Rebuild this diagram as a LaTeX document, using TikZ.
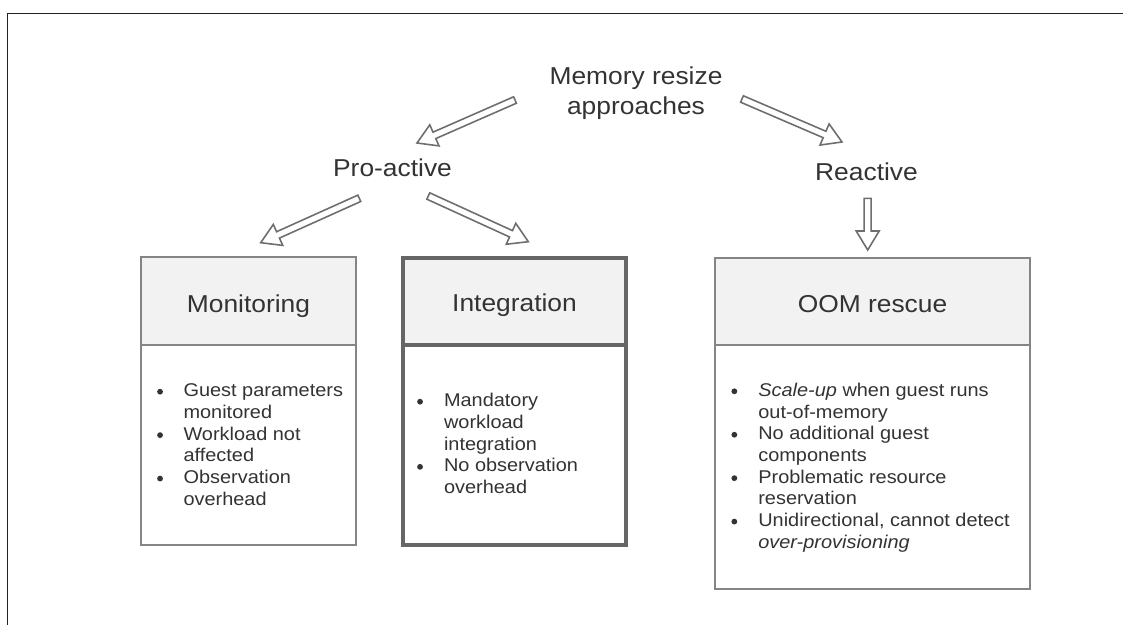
\documentclass[tikz,border=0pt]{standalone}
\usepackage{fontspec}
\setmainfont[FakeStretch=1.08]{Liberation Sans}
\usetikzlibrary{calc}
\definecolor{txt}{HTML}{333333}
\definecolor{bordA}{HTML}{858585}
\definecolor{bordB}{HTML}{666666}
\definecolor{hdr}{HTML}{F2F2F2}
\definecolor{arrc}{HTML}{6E6E6E}
\definecolor{frame}{HTML}{222222}
\newcommand\titlefont{\fontsize{13.9}{17.4}\selectfont}
\newcommand\listfont{\fontsize{10.5}{12.36}\selectfont}
\newcommand\bul{\tikz[baseline=0pt,overlay]{\fill[txt] (0.08cm,0.1cm) circle (0.058cm);}}
\newcommand\hollowarrow[2]{%
  \coordinate (ha) at ($(#2)!0.38cm!(#1)$);
  \draw[blockarrow] ($(#1)!0.07cm!90:(#2)$) -- ($(ha)!0.07cm!-90:(#1)$) -- ($(ha)!0.23cm!-90:(#1)$) -- (#2) -- ($(ha)!0.23cm!90:(#1)$) -- ($(ha)!0.07cm!90:(#1)$) -- ($(#1)!0.07cm!-90:(#2)$) -- cycle;}
\begin{document}
\begin{tikzpicture}[x=0.02cm,y=-0.02cm,
  title/.style={anchor=base,inner sep=0pt,text=txt,font=\titlefont},
  listtext/.style={anchor=base west,inner sep=0pt,text=txt,font=\listfont},
  hdrA/.style={draw=bordA,line width=1.1pt,fill=hdr,inner sep=0pt},
  bodyA/.style={draw=bordA,line width=1.1pt,fill=white,inner sep=0pt},
  hdrB/.style={draw=bordB,line width=2.2pt,fill=hdr,inner sep=0pt},
  bodyB/.style={draw=bordB,line width=2.2pt,fill=white,inner sep=0pt},
  blockarrow/.style={draw=arrc,line width=0.9pt,fill=white,line join=miter}]
\useasboundingbox (0,0) rectangle (1123,625);
\draw[frame,line width=0.9pt] (7.5,625) -- (7.5,13.5) -- (1123,13.5);

% top-level texts
\node[title] (mem) at (636,84.3) {\begin{tabular}[t]{@{}c@{}}Memory resize\\approaches\end{tabular}};
\node[title] (pro) at (392.5,176) {Pro-active};
\node[title] (rea) at (866.5,180) {Reactive};

% Monitoring box
\node[bodyA,minimum width=4.3cm,minimum height=4.0cm] (monb) at (248.5,445) {};
\node[hdrA,minimum width=4.3cm,minimum height=1.76cm] (monh) at (248.5,301) {};
\node[title] (mont) at (248.5,312) {Monitoring};
\node[listtext] (monl) at (155.7,396.7) {\begin{tabular}[t]{@{}p{0.55cm}@{}l@{}}
\bul & Guest parameters\\
  & monitored\\
\bul & Workload not\\
  & affected\\
\bul & Observation\\
  & overhead
\end{tabular}};

% Integration box
\node[bodyB,minimum width=4.46cm,minimum height=4.0cm] (intb) at (514.5,445) {};
\node[hdrB,minimum width=4.46cm,minimum height=1.74cm] (inth) at (514.5,301.5) {};
\node[title] (intt) at (514.5,311.5) {Integration};
\node[listtext] (intl) at (415.7,406.7) {\begin{tabular}[t]{@{}p{0.56cm}@{}l@{}}
\bul & Mandatory\\
  & workload\\
  & integration\\
\bul & No observation\\
  & overhead
\end{tabular}};

% OOM rescue box
\node[bodyA,minimum width=6.3cm,minimum height=4.88cm] (oomb) at (872.5,467) {};
\node[hdrA,minimum width=6.3cm,minimum height=1.74cm] (oomh) at (872.5,301.5) {};
\node[title] (oomt) at (872.5,312.5) {OOM rescue};
\node[listtext] (ooml) at (730,396.3) {\begin{tabular}[t]{@{}p{0.56cm}@{}l@{}}
\bul & \textit{Scale-up} when guest runs\\
  & out-of-memory\\
\bul & No additional guest\\
  & components\\
\bul & Problematic resource\\
  & reservation\\
\bul & Unidirectional, cannot detect\\
  & \textit{over-provisioning}
\end{tabular}};

% arrow end points
\coordinate (a1s) at (515,100);
\coordinate (a1e) at (417,143);
\coordinate (a2s) at (742,99);
\coordinate (a2e) at (842,142);
\coordinate (a3s) at (359.3,198.3);
\coordinate (a3e) at (260.7,242.7);
\coordinate (a4s) at (428.3,196);
\coordinate (a4e) at (528.3,241.7);
\coordinate (a5s) at (867.7,198.3);
\coordinate (a5e) at (867.7,250);

\hollowarrow{a1s}{a1e}
\hollowarrow{a2s}{a2e}
\hollowarrow{a3s}{a3e}
\hollowarrow{a4s}{a4e}
\hollowarrow{a5s}{a5e}
\end{tikzpicture}
\end{document}
